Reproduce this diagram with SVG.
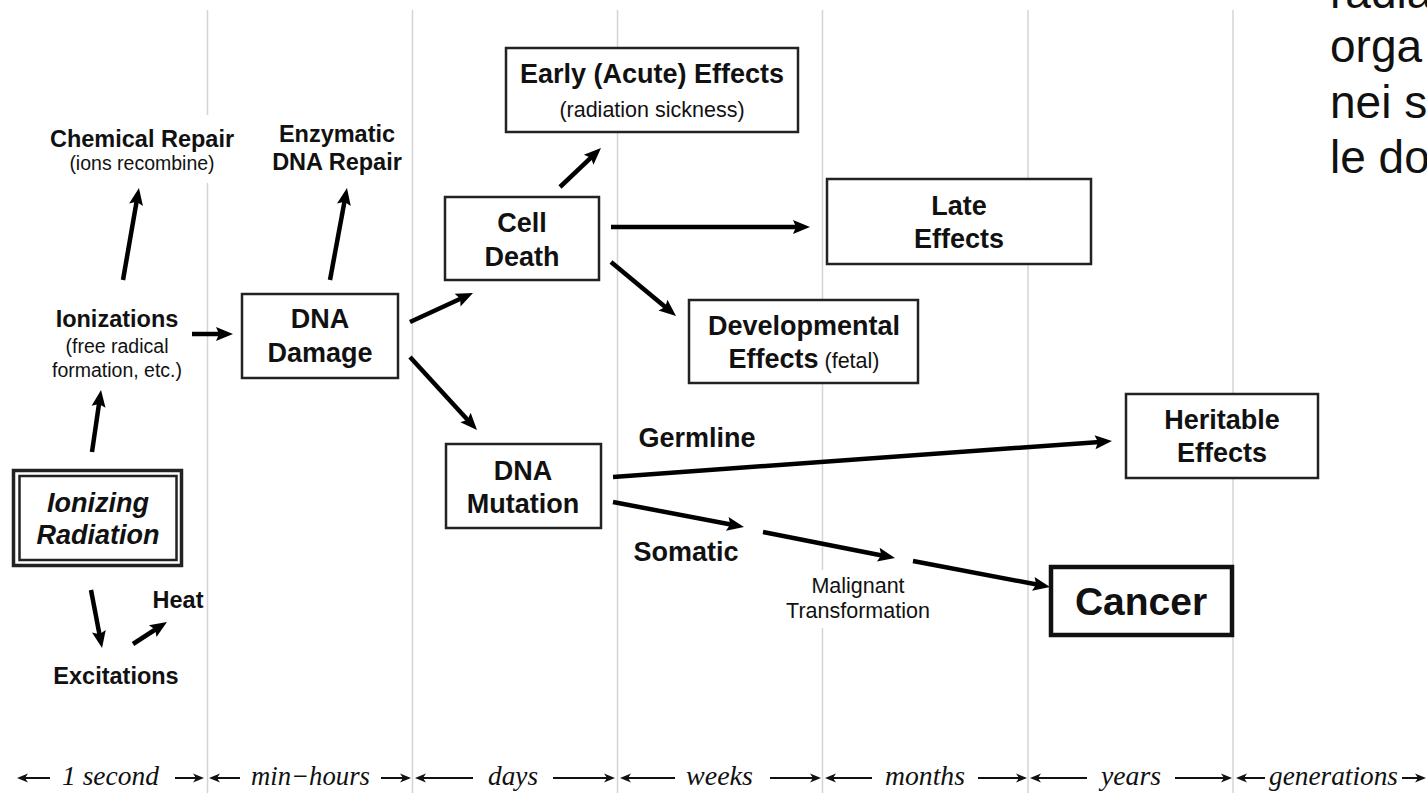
<svg xmlns="http://www.w3.org/2000/svg" width="1427" height="793" viewBox="0 0 1427 793">
<style>
.t{font-family:"Liberation Sans",Arial,sans-serif;fill:#111;text-anchor:middle}
.b{font-weight:bold}
.s27{font-size:27px}
.s23{font-size:23.5px}
.r19{font-size:19.5px}
.r21{font-size:21.5px}
.box{fill:#fff;stroke:#222;stroke-width:2.5}
.grid{stroke:#d4d4d4;stroke-width:1.5}
.arr{stroke:#000;stroke-width:4.5;fill:none;marker-end:url(#ah)}
.tl{font-family:"Liberation Serif","Times New Roman",serif;font-style:italic;font-size:27px;fill:#111}
.tla{stroke:#111;stroke-width:2;marker-end:url(#th)}
.it{font-family:"Liberation Sans",Arial,sans-serif;font-size:46px;fill:#111}
</style>
<defs>
<marker id="ah" markerUnits="userSpaceOnUse" markerWidth="18" markerHeight="14" refX="5" refY="7" orient="auto" overflow="visible">
<path d="M0,0 L17,7 L0,14 L3,7 Z" fill="#000"/>
</marker>
<marker id="th" markerUnits="userSpaceOnUse" markerWidth="12" markerHeight="10" refX="4" refY="4.5" orient="auto" overflow="visible">
<path d="M0,0 L11,4.5 L0,9 L3,4.5 Z" fill="#111"/>
</marker>
</defs>
<rect x="0" y="0" width="1427" height="793" fill="#fff"/>

<g id="grid">
<line class="grid" x1="207.5" y1="10" x2="207.5" y2="793"/>
<line class="grid" x1="412.5" y1="10" x2="412.5" y2="793"/>
<line class="grid" x1="617.5" y1="10" x2="617.5" y2="793"/>
<line class="grid" x1="822.5" y1="10" x2="822.5" y2="793"/>
<line class="grid" x1="1028" y1="10" x2="1028" y2="793"/>
<line class="grid" x1="1233" y1="10" x2="1233" y2="793"/>
</g>

<g id="timeline">
<line class="tla" x1="50" y1="778" x2="24" y2="778"/>
<text class="tl" x="62" y="785" textLength="97" lengthAdjust="spacingAndGlyphs">1 second</text>
<line class="tla" x1="175" y1="778" x2="197" y2="778"/>
<line class="tla" x1="240" y1="778" x2="216" y2="778"/>
<text class="tl" x="251" y="785" textLength="119" lengthAdjust="spacingAndGlyphs">min−hours</text>
<line class="tla" x1="381" y1="778" x2="404" y2="778"/>
<line class="tla" x1="473" y1="778" x2="422" y2="778"/>
<text class="tl" x="488" y="785" textLength="50" lengthAdjust="spacingAndGlyphs">days</text>
<line class="tla" x1="553" y1="778" x2="608" y2="778"/>
<line class="tla" x1="675" y1="778" x2="627" y2="778"/>
<text class="tl" x="686" y="785" textLength="67" lengthAdjust="spacingAndGlyphs">weeks</text>
<line class="tla" x1="770" y1="778" x2="814" y2="778"/>
<line class="tla" x1="872" y1="778" x2="832" y2="778"/>
<text class="tl" x="885" y="785" textLength="80" lengthAdjust="spacingAndGlyphs">months</text>
<line class="tla" x1="978" y1="778" x2="1020" y2="778"/>
<line class="tla" x1="1087" y1="778" x2="1037" y2="778"/>
<text class="tl" x="1101" y="785" textLength="60" lengthAdjust="spacingAndGlyphs">years</text>
<line class="tla" x1="1175" y1="778" x2="1225" y2="778"/>
<line class="tla" x1="1265" y1="778" x2="1243" y2="778"/>
<text class="tl" x="1269" y="785" textLength="129" lengthAdjust="spacingAndGlyphs">generations</text>
<line class="tla" x1="1402" y1="778" x2="1419" y2="778"/>
</g>

<g id="side-text">
<text class="it" x="1330" y="8">radia</text>
<text class="it" x="1330" y="62">orga</text>
<text class="it" x="1330" y="118">nei s</text>
<text class="it" x="1330" y="173">le do</text>
</g>

<g id="connectors">
<line class="arr" x1="92" y1="452" x2="99.3" y2="401.9"/>
<line class="arr" x1="123" y1="280" x2="136.9" y2="199.8"/>
<line class="arr" x1="192" y1="334" x2="221" y2="334"/>
<line class="arr" x1="330" y1="280" x2="344.8" y2="199.8"/>
<line class="arr" x1="410" y1="322" x2="462.1" y2="298"/>
<line class="arr" x1="410" y1="357" x2="468.9" y2="421.2"/>
<line class="arr" x1="560" y1="187" x2="592.3" y2="156.3"/>
<line class="arr" x1="611" y1="227" x2="798" y2="227"/>
<line class="arr" x1="611" y1="262" x2="666.8" y2="308.3"/>
<line class="arr" x1="613" y1="477" x2="1100" y2="441.9"/>
<line class="arr" x1="613" y1="502" x2="732.2" y2="524.8"/>
<line class="arr" x1="763" y1="532" x2="883.2" y2="555.7"/>
<line class="arr" x1="913" y1="561" x2="1038.2" y2="584.8"/>
<line class="arr" x1="91" y1="590" x2="99.8" y2="636.2"/>
<line class="arr" x1="133" y1="644" x2="156.9" y2="628.5"/>
</g>

<g id="ionizing-radiation">
<rect x="13.5" y="470.5" width="168" height="95" fill="#fff" stroke="#222" stroke-width="3.5"/>
<rect x="19.5" y="476" width="157" height="84" fill="none" stroke="#222" stroke-width="2.5"/>
<text class="t b s27" x="98" y="512" font-style="italic">Ionizing</text>
<text class="t b s27" x="98" y="544" font-style="italic">Radiation</text>
</g>

<g id="ionizations">
<text class="t b s23" x="117" y="327">Ionizations</text>
<text class="t r19" x="117" y="353">(free radical</text>
<text class="t r19" x="117" y="377">formation, etc.)</text>
</g>

<g id="chemical-repair">
<rect x="45" y="115" width="195" height="68" fill="#fff"/>
<text class="t b s23" x="142" y="147">Chemical Repair</text>
<text class="t r19" x="142" y="170">(ions recombine)</text>
</g>

<g id="enzymatic-repair">
<text class="t b s23" x="337" y="142">Enzymatic</text>
<text class="t b s23" x="337" y="170">DNA Repair</text>
</g>

<g id="dna-damage">
<rect class="box" x="242" y="294" width="156" height="84"/>
<text class="t b s27" x="320" y="328">DNA</text>
<text class="t b s27" x="320" y="362">Damage</text>
</g>

<g id="early-effects">
<rect class="box" x="506" y="48" width="292" height="84"/>
<text class="t b s27" x="652" y="83">Early (Acute) Effects</text>
<text class="t r21" x="652" y="117">(radiation sickness)</text>
</g>

<g id="cell-death">
<rect class="box" x="445" y="197" width="154" height="83"/>
<text class="t b s27" x="522" y="232">Cell</text>
<text class="t b s27" x="522" y="266">Death</text>
</g>

<g id="late-effects">
<rect class="box" x="827" y="179" width="264" height="85"/>
<text class="t b s27" x="959" y="215">Late</text>
<text class="t b s27" x="959" y="248">Effects</text>
</g>

<g id="developmental-effects">
<rect class="box" x="689" y="300" width="229" height="83"/>
<text class="t b s27" x="804" y="335">Developmental</text>
<text class="t s27" x="804" y="368"><tspan font-weight="bold">Effects</tspan><tspan font-size="21.5px"> (fetal)</tspan></text>
</g>

<g id="dna-mutation">
<rect class="box" x="446" y="444" width="155" height="84"/>
<text class="t b s27" x="523" y="480">DNA</text>
<text class="t b s27" x="523" y="513">Mutation</text>
</g>

<g id="heritable-effects">
<rect class="box" x="1126" y="394" width="192" height="84"/>
<text class="t b s27" x="1222" y="429">Heritable</text>
<text class="t b s27" x="1222" y="462">Effects</text>
</g>

<g id="germline-label">
<text class="t b s27" x="697" y="447">Germline</text>
</g>

<g id="somatic-label">
<text class="t b s27" x="686" y="561">Somatic</text>
</g>

<g id="malignant-transformation">
<rect x="784" y="570" width="150" height="58" fill="#fff"/>
<text class="t r21" x="858" y="593">Malignant</text>
<text class="t r21" x="858" y="618">Transformation</text>
</g>

<g id="cancer">
<rect x="1051" y="567" width="181" height="68" fill="#fff" stroke="#111" stroke-width="4.5"/>
<text class="t b" x="1141" y="615" font-size="39px">Cancer</text>
</g>

<g id="heat">
<text class="t b s23" x="178" y="608">Heat</text>
</g>

<g id="excitations">
<text class="t b s23" x="116" y="684">Excitations</text>
</g>
</svg>
